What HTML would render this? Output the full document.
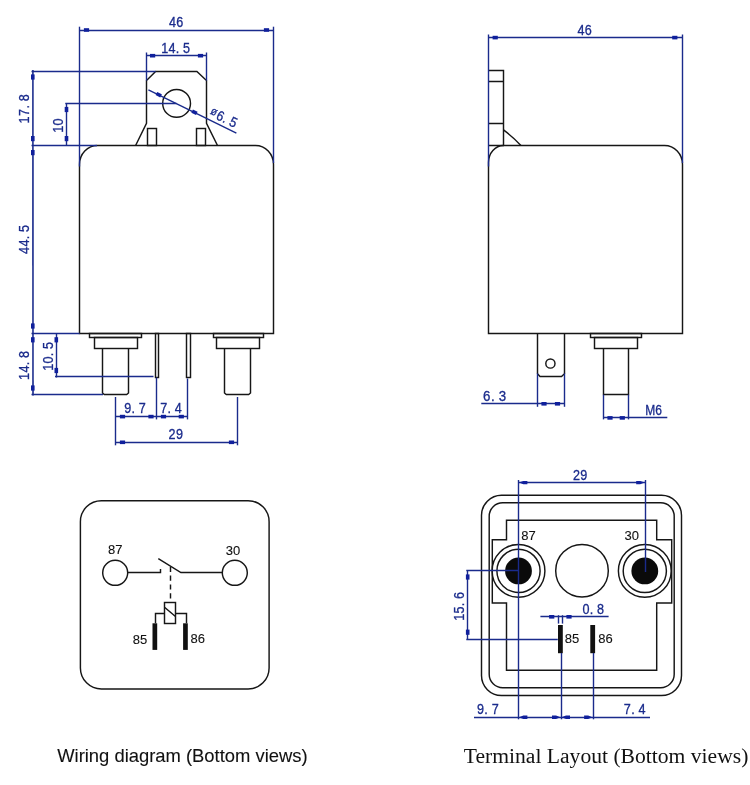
<!DOCTYPE html>
<html lang="en">
<head>
<meta charset="utf-8">
<title>Relay outline dimensions</title>
<style>
html,body{margin:0;padding:0;background:#fff;}
body{width:750px;height:785px;overflow:hidden;}
svg{display:block;filter:blur(0.3px);}
.d{font-family:"Liberation Sans",Arial,Helvetica,sans-serif;stroke:#1a2b8c;stroke-width:0.3px;}
.b{font-family:"Liberation Sans",Arial,Helvetica,sans-serif;stroke:#111;stroke-width:0.1px;}
.s{font-family:"Liberation Serif","Times New Roman",Times,serif;}
</style>
</head>
<body>
<svg width="750" height="785" viewBox="0 0 750 785">
<rect x="0" y="0" width="750" height="785" fill="#ffffff"/>
<path d="M79.5,333.5 L79.5,164.5 A18,19 0 0 1 97.5,145.5 L255.5,145.5 A18,19 0 0 1 273.5,164.5 L273.5,333.5 Z" stroke="#161616" stroke-width="1.45" fill="none" />
<path d="M135.6,145.5 L146.5,123.4 L146.5,80.5 L155.6,71.5 L196.9,71.5 L206.5,80.5 L206.5,123.4 L217.5,145.5" stroke="#161616" stroke-width="1.45" fill="none" />
<rect x="147.5" y="128.5" width="9.0" height="17.0" stroke="#161616" stroke-width="1.45" fill="none"/>
<rect x="196.5" y="128.5" width="9.0" height="17.0" stroke="#161616" stroke-width="1.45" fill="none"/>
<circle cx="176.6" cy="103.4" r="13.9" stroke="#161616" stroke-width="1.45" fill="none"/>
<rect x="89.5" y="333.5" width="52.0" height="4.0" stroke="#161616" stroke-width="1.45" fill="none"/>
<rect x="94.5" y="337.5" width="43.0" height="11.0" stroke="#161616" stroke-width="1.45" fill="none"/>
<path d="M102.5,348.5 L102.5,393 L104.3,394.5 L126.7,394.5 L128.5,393 L128.5,348.5" stroke="#161616" stroke-width="1.45" fill="none" />
<rect x="213.5" y="333.5" width="50.0" height="4.0" stroke="#161616" stroke-width="1.45" fill="none"/>
<rect x="216.5" y="337.5" width="43.0" height="11.0" stroke="#161616" stroke-width="1.45" fill="none"/>
<path d="M224.5,348.5 L224.5,393 L226.3,394.5 L248.7,394.5 L250.5,393 L250.5,348.5" stroke="#161616" stroke-width="1.45" fill="none" />
<rect x="155.5" y="333.5" width="3.0" height="44.0" stroke="#161616" stroke-width="1.45" fill="none"/>
<rect x="186.5" y="333.5" width="4.0" height="44.0" stroke="#161616" stroke-width="1.45" fill="none"/>
<line x1="79.5" y1="26.7" x2="79.5" y2="166.5" stroke="#1a2b8c" stroke-width="1.4" />
<line x1="273.5" y1="26.7" x2="273.5" y2="163" stroke="#1a2b8c" stroke-width="1.4" />
<line x1="79.5" y1="30.5" x2="273.5" y2="30.5" stroke="#1a2b8c" stroke-width="1.4" />
<rect x="83.9" y="28.2" width="5.2" height="3.6" fill="#10209c"/>
<rect x="263.9" y="28.2" width="5.2" height="3.6" fill="#10209c"/>
<text transform="translate(176.2,27) scale(0.9,1)" x="-8.11 0.0" y="0" font-size="14" fill="#1a2b8c" class="d">46</text>
<line x1="146.5" y1="52.5" x2="146.5" y2="80.5" stroke="#1a2b8c" stroke-width="1.4" />
<line x1="206.5" y1="52.5" x2="206.5" y2="80.5" stroke="#1a2b8c" stroke-width="1.4" />
<line x1="146.4" y1="55.5" x2="206.6" y2="55.5" stroke="#1a2b8c" stroke-width="1.4" />
<rect x="150.0" y="53.900000000000006" width="5.2" height="3.6" fill="#10209c"/>
<rect x="197.9" y="53.900000000000006" width="5.2" height="3.6" fill="#10209c"/>
<text transform="translate(175.8,52.9) scale(0.9,1)" x="-16.22 -8.11 0.0 8.11" y="0" font-size="14" fill="#1a2b8c" class="d">14.5</text>
<line x1="32.9" y1="70" x2="33.0" y2="395.5" stroke="#1a2b8c" stroke-width="1.6" />
<line x1="31.5" y1="71.5" x2="155.6" y2="71.5" stroke="#1a2b8c" stroke-width="1.4" />
<line x1="31.5" y1="145.5" x2="97" y2="145.5" stroke="#1a2b8c" stroke-width="1.4" />
<line x1="31.5" y1="333.5" x2="79.5" y2="333.5" stroke="#1a2b8c" stroke-width="1.4" />
<line x1="31.5" y1="394.5" x2="103" y2="394.5" stroke="#1a2b8c" stroke-width="1.4" />
<rect x="30.999999999999996" y="74.4" width="3.6" height="5.2" fill="#10209c"/>
<rect x="30.999999999999996" y="136.0" width="3.6" height="5.2" fill="#10209c"/>
<rect x="30.999999999999996" y="150.0" width="3.6" height="5.2" fill="#10209c"/>
<rect x="30.999999999999996" y="323.4" width="3.6" height="5.2" fill="#10209c"/>
<rect x="30.999999999999996" y="337.2" width="3.6" height="5.2" fill="#10209c"/>
<rect x="30.999999999999996" y="385.4" width="3.6" height="5.2" fill="#10209c"/>
<text transform="translate(29.4,108.6) rotate(-90) scale(0.9,1)" x="-16.56 -8.28 0.0 8.28" y="0" font-size="14" fill="#1a2b8c" class="d">17.8</text>
<text transform="translate(29.3,239.3) rotate(-90) scale(0.9,1)" x="-16.22 -8.11 0.0 8.11" y="0" font-size="14" fill="#1a2b8c" class="d">44.5</text>
<text transform="translate(29.2,365.3) rotate(-90) scale(0.9,1)" x="-16.22 -8.11 0.0 8.11" y="0" font-size="14" fill="#1a2b8c" class="d">14.8</text>
<line x1="66.5" y1="103" x2="66.5" y2="145.6" stroke="#1a2b8c" stroke-width="1.4" />
<line x1="65.3" y1="103.5" x2="176.4" y2="103.5" stroke="#1a2b8c" stroke-width="1.4" />
<rect x="64.7" y="106.9" width="3.6" height="5.2" fill="#10209c"/>
<rect x="64.7" y="136.0" width="3.6" height="5.2" fill="#10209c"/>
<text transform="translate(62.6,125.5) rotate(-90) scale(0.9,1)" x="-8.11 0.0" y="0" font-size="14" fill="#1a2b8c" class="d">10</text>
<line x1="56.5" y1="333.1" x2="56.5" y2="377.5" stroke="#1a2b8c" stroke-width="1.4" />
<line x1="55" y1="376.5" x2="153.5" y2="376.5" stroke="#1a2b8c" stroke-width="1.4" />
<rect x="54.5" y="337.2" width="3.6" height="5.2" fill="#10209c"/>
<rect x="54.5" y="367.9" width="3.6" height="5.2" fill="#10209c"/>
<text transform="translate(52.7,356.2) rotate(-90) scale(0.9,1)" x="-16.22 -8.11 0.0 8.11" y="0" font-size="14" fill="#1a2b8c" class="d">10.5</text>
<line x1="148.4" y1="89.9" x2="236.4" y2="133.1" stroke="#1a2b8c" stroke-width="1.4" />
<g transform="translate(176.6,103.4) rotate(26.1)">
<rect x="-22.5" y="-1.8" width="5.2" height="3.6" fill="#10209c"/>
<rect x="17.3" y="-1.8" width="5.2" height="3.6" fill="#10209c"/>
</g>
<text transform="translate(208.6,115.6) rotate(25.6) scale(0.88,1)" x="0 8.3 16.48 24.66" y="0" font-size="14" fill="#1a2b8c" class="d"><tspan font-size="11.5" dy="-2.4">ø</tspan><tspan dy="2.4">6.5</tspan></text>
<line x1="115.5" y1="397" x2="115.5" y2="445.3" stroke="#1a2b8c" stroke-width="1.4" />
<line x1="237.5" y1="397" x2="237.5" y2="445.3" stroke="#1a2b8c" stroke-width="1.4" />
<line x1="156.5" y1="377.5" x2="156.5" y2="419.4" stroke="#1a2b8c" stroke-width="1.4" />
<line x1="187.5" y1="378.5" x2="187.5" y2="419.4" stroke="#1a2b8c" stroke-width="1.4" />
<line x1="115.4" y1="416.5" x2="187.5" y2="416.5" stroke="#1a2b8c" stroke-width="1.4" />
<rect x="119.9" y="414.8" width="5.2" height="3.6" fill="#10209c"/>
<rect x="148.4" y="414.8" width="5.2" height="3.6" fill="#10209c"/>
<rect x="160.9" y="414.8" width="5.2" height="3.6" fill="#10209c"/>
<rect x="178.70000000000002" y="414.8" width="5.2" height="3.6" fill="#10209c"/>
<line x1="115.4" y1="442.5" x2="237.6" y2="442.5" stroke="#1a2b8c" stroke-width="1.4" />
<rect x="119.9" y="440.5" width="5.2" height="3.6" fill="#10209c"/>
<rect x="228.9" y="440.5" width="5.2" height="3.6" fill="#10209c"/>
<text transform="translate(135.2,413.4) scale(0.9,1)" x="-12.17 -4.06 4.06" y="0" font-size="14" fill="#1a2b8c" class="d">9.7</text>
<text transform="translate(171.2,413.4) scale(0.9,1)" x="-12.17 -4.06 4.06" y="0" font-size="14" fill="#1a2b8c" class="d">7.4</text>
<text transform="translate(175.9,439.4) scale(0.9,1)" x="-8.11 0.0" y="0" font-size="14" fill="#1a2b8c" class="d">29</text>
<path d="M488.5,333.5 L488.5,162.5 A15,17 0 0 1 503.5,145.5 L664.5,145.5 A18,19 0 0 1 682.5,164.5 L682.5,333.5 Z" stroke="#161616" stroke-width="1.45" fill="none" />
<path d="M488.5,70.5 L503.5,70.5 L503.5,145.5 M488.5,81.5 L503.5,81.5 M488.5,123.5 L503.5,123.5 M488.5,145.5 L504,145.5" stroke="#161616" stroke-width="1.45" fill="none" />
<path d="M503.5,129.9 Q513,137 520.9,145.5" stroke="#161616" stroke-width="1.45" fill="none" />
<path d="M537.5,333.5 L537.5,373.8 L540,376.5 L561.5,376.5 L564.5,373.8 L564.5,333.5" stroke="#161616" stroke-width="1.45" fill="none" />
<circle cx="550.4" cy="363.5" r="4.6" stroke="#161616" stroke-width="1.45" fill="none"/>
<rect x="590.5" y="333.5" width="51.0" height="4.0" stroke="#161616" stroke-width="1.45" fill="none"/>
<rect x="594.5" y="337.5" width="43.0" height="11.0" stroke="#161616" stroke-width="1.45" fill="none"/>
<path d="M603.5,348.5 L603.5,394.5 L628.5,394.5 L628.5,348.5" stroke="#161616" stroke-width="1.45" fill="none" />
<line x1="488.5" y1="34.5" x2="488.5" y2="166.5" stroke="#1a2b8c" stroke-width="1.4" />
<line x1="682.5" y1="34.5" x2="682.5" y2="163" stroke="#1a2b8c" stroke-width="1.4" />
<line x1="488.5" y1="37.5" x2="682.5" y2="37.5" stroke="#1a2b8c" stroke-width="1.4" />
<rect x="492.59999999999997" y="35.800000000000004" width="5.2" height="3.6" fill="#10209c"/>
<rect x="672.1999999999999" y="35.800000000000004" width="5.2" height="3.6" fill="#10209c"/>
<text transform="translate(584.7,34.6) scale(0.9,1)" x="-8.11 0.0" y="0" font-size="14" fill="#1a2b8c" class="d">46</text>
<line x1="537.5" y1="373.5" x2="537.5" y2="406.8" stroke="#1a2b8c" stroke-width="1.4" />
<line x1="564.5" y1="373.5" x2="564.5" y2="406.8" stroke="#1a2b8c" stroke-width="1.4" />
<line x1="481.3" y1="403.5" x2="564.3" y2="403.5" stroke="#1a2b8c" stroke-width="1.4" />
<rect x="541.4" y="402.0" width="5.2" height="3.6" fill="#10209c"/>
<rect x="554.9" y="402.0" width="5.2" height="3.6" fill="#10209c"/>
<text transform="translate(494.8,400.7) scale(0.95,1)" x="-12.32 -4.11 4.11" y="0" font-size="14" fill="#1a2b8c" class="d">6.3</text>
<line x1="603.5" y1="394.7" x2="603.5" y2="419.4" stroke="#1a2b8c" stroke-width="1.4" />
<line x1="628.5" y1="394.7" x2="628.5" y2="419.4" stroke="#1a2b8c" stroke-width="1.4" />
<line x1="603.6" y1="417.5" x2="667.3" y2="417.5" stroke="#1a2b8c" stroke-width="1.4" />
<rect x="607.4" y="416.09999999999997" width="5.2" height="3.6" fill="#10209c"/>
<rect x="619.6999999999999" y="416.09999999999997" width="5.2" height="3.6" fill="#10209c"/>
<text transform="translate(645.3,414.9) scale(0.86,1)" x="0 11.51" y="0" font-size="14" fill="#1a2b8c" class="d">M6</text>
<rect x="80.4" y="500.7" width="188.7" height="188.3" rx="21" ry="21" stroke="#161616" stroke-width="1.45" fill="none"/>
<circle cx="115.2" cy="572.8" r="12.5" stroke="#161616" stroke-width="1.45" fill="none"/>
<circle cx="234.8" cy="572.8" r="12.5" stroke="#161616" stroke-width="1.45" fill="none"/>
<path d="M127.6,572.5 L160.5,572.5 L160.5,569 M158.3,558.7 L180.9,572.5 L222.1,572.5" stroke="#161616" stroke-width="1.45" fill="none" />
<line x1="170.5" y1="566.8" x2="170.5" y2="602.4" stroke="#161616" stroke-width="1.45" stroke-dasharray="5.2 3.6"/>
<rect x="164.5" y="602.5" width="11.0" height="21.0" stroke="#161616" stroke-width="1.45" fill="none"/>
<path d="M164.5,607.3 L175.5,616.5 M164.5,613.5 L155.5,613.5 L155.5,623.3 M175.5,613.5 L186.5,613.5 L186.5,623.3" stroke="#161616" stroke-width="1.45" fill="none" />
<rect x="152.5" y="623.3" width="4.7" height="26.6" fill="#111"/>
<rect x="183.1" y="623.3" width="4.7" height="26.6" fill="#111"/>
<text x="115.3" y="554.2" font-size="13" fill="#111" text-anchor="middle" class="b">87</text>
<text x="233" y="555.2" font-size="13" fill="#111" text-anchor="middle" class="b">30</text>
<text x="140.1" y="644.3" font-size="13" fill="#111" text-anchor="middle" class="b">85</text>
<text x="197.7" y="642.8" font-size="13" fill="#111" text-anchor="middle" class="b">86</text>
<rect x="481.5" y="495.3" width="200" height="200.2" rx="20" ry="20" stroke="#161616" stroke-width="1.45" fill="none"/>
<rect x="489.2" y="502.7" width="185" height="185" rx="13.5" ry="13.5" stroke="#161616" stroke-width="1.45" fill="none"/>
<path d="M506.5,520.2 L656.7,520.2 L656.7,539.7 L671.7,539.7 L671.7,602.9 L656.7,602.9 L656.7,670.2 L506.5,670.2 L506.5,602.9 L492.3,602.9 L492.3,539.7 L506.5,539.7 Z" stroke="#161616" stroke-width="1.45" fill="none" />
<circle cx="518.5" cy="570.9" r="26.4" stroke="#161616" stroke-width="1.45" fill="none"/>
<circle cx="518.5" cy="570.9" r="21.6" stroke="#161616" stroke-width="1.45" fill="none"/>
<circle cx="518.5" cy="570.9" r="13.4" fill="#0a0a0a"/>
<circle cx="644.8" cy="570.9" r="26.4" stroke="#161616" stroke-width="1.45" fill="none"/>
<circle cx="644.8" cy="570.9" r="21.6" stroke="#161616" stroke-width="1.45" fill="none"/>
<circle cx="644.8" cy="570.9" r="13.4" fill="#0a0a0a"/>
<circle cx="582" cy="570.7" r="26.3" stroke="#161616" stroke-width="1.45" fill="none"/>
<rect x="558" y="625" width="4.8" height="28.2" fill="#111"/>
<rect x="590.3" y="625" width="4.8" height="28.2" fill="#111"/>
<text x="528.4" y="539.7" font-size="13" fill="#111" text-anchor="middle" class="b">87</text>
<text x="631.8" y="539.7" font-size="13" fill="#111" text-anchor="middle" class="b">30</text>
<text x="572" y="643.4" font-size="13" fill="#111" text-anchor="middle" class="b">85</text>
<text x="605.5" y="643.4" font-size="13" fill="#111" text-anchor="middle" class="b">86</text>
<line x1="518.5" y1="480" x2="518.5" y2="719.3" stroke="#1a2b8c" stroke-width="1.4" />
<line x1="645.5" y1="480" x2="645.5" y2="572" stroke="#1a2b8c" stroke-width="1.4" />
<line x1="518.4" y1="482.5" x2="645" y2="482.5" stroke="#1a2b8c" stroke-width="1.4" />
<polygon points="518.9,482.6 523.4,480.9 527.4,480.9 527.4,484.3 523.4,484.3" fill="#10209c"/>
<polygon points="644.7,482.6 640.2,480.9 636.2,480.9 636.2,484.3 640.2,484.3" fill="#10209c"/>
<text transform="translate(580.2,479.5) scale(0.9,1)" x="-8.11 0.0" y="0" font-size="14" fill="#1a2b8c" class="d">29</text>
<line x1="467.5" y1="570" x2="467.5" y2="639.5" stroke="#1a2b8c" stroke-width="1.4" />
<line x1="466.3" y1="570.5" x2="518.4" y2="570.5" stroke="#1a2b8c" stroke-width="1.4" />
<line x1="466.3" y1="639.5" x2="557.8" y2="639.5" stroke="#1a2b8c" stroke-width="1.4" />
<rect x="465.9" y="574.4" width="3.6" height="5.2" fill="#10209c"/>
<rect x="465.9" y="629.6" width="3.6" height="5.2" fill="#10209c"/>
<text transform="translate(463.6,606.2) rotate(-90) scale(0.9,1)" x="-16.22 -8.11 0.0 8.11" y="0" font-size="14" fill="#1a2b8c" class="d">15.6</text>
<line x1="540.4" y1="616.5" x2="608.6" y2="616.5" stroke="#1a2b8c" stroke-width="1.4" />
<rect x="549.1" y="615.0" width="5.2" height="3.6" fill="#10209c"/>
<rect x="566.4" y="615.0" width="5.2" height="3.6" fill="#10209c"/>
<line x1="558.5" y1="615.2" x2="558.5" y2="623.6" stroke="#1a2b8c" stroke-width="1.4" />
<line x1="562.5" y1="615.2" x2="562.5" y2="623.6" stroke="#1a2b8c" stroke-width="1.4" />
<text transform="translate(593.4,613.7) scale(0.9,1)" x="-12.17 -4.06 4.06" y="0" font-size="14" fill="#1a2b8c" class="d">0.8</text>
<line x1="561.5" y1="653" x2="561.5" y2="719.3" stroke="#1a2b8c" stroke-width="1.4" />
<line x1="593.5" y1="653" x2="593.5" y2="719.3" stroke="#1a2b8c" stroke-width="1.4" />
<line x1="474" y1="717.5" x2="650" y2="717.5" stroke="#1a2b8c" stroke-width="1.4" />
<polygon points="518.9,717.2 523.4,715.5 527.4,715.5 527.4,718.9 523.4,718.9" fill="#10209c"/>
<polygon points="560.5,717.2 556.0,715.5 552.0,715.5 552.0,718.9 556.0,718.9" fill="#10209c"/>
<polygon points="561.5,717.2 566.0,715.5 570.0,715.5 570.0,718.9 566.0,718.9" fill="#10209c"/>
<polygon points="592.6,717.2 588.1,715.5 584.1,715.5 584.1,718.9 588.1,718.9" fill="#10209c"/>
<text transform="translate(488,714.2) scale(0.9,1)" x="-12.17 -4.06 4.06" y="0" font-size="14" fill="#1a2b8c" class="d">9.7</text>
<text transform="translate(634.8,714.2) scale(0.9,1)" x="-12.17 -4.06 4.06" y="0" font-size="14" fill="#1a2b8c" class="d">7.4</text>
<text x="57.2" y="761.6" font-size="18.4" fill="#111" class="b">Wiring diagram (Bottom views)</text>
<text x="463.8" y="762.6" font-size="21.6" fill="#111" class="s">Terminal Layout (Bottom views)</text>
</svg>
</body>
</html>
